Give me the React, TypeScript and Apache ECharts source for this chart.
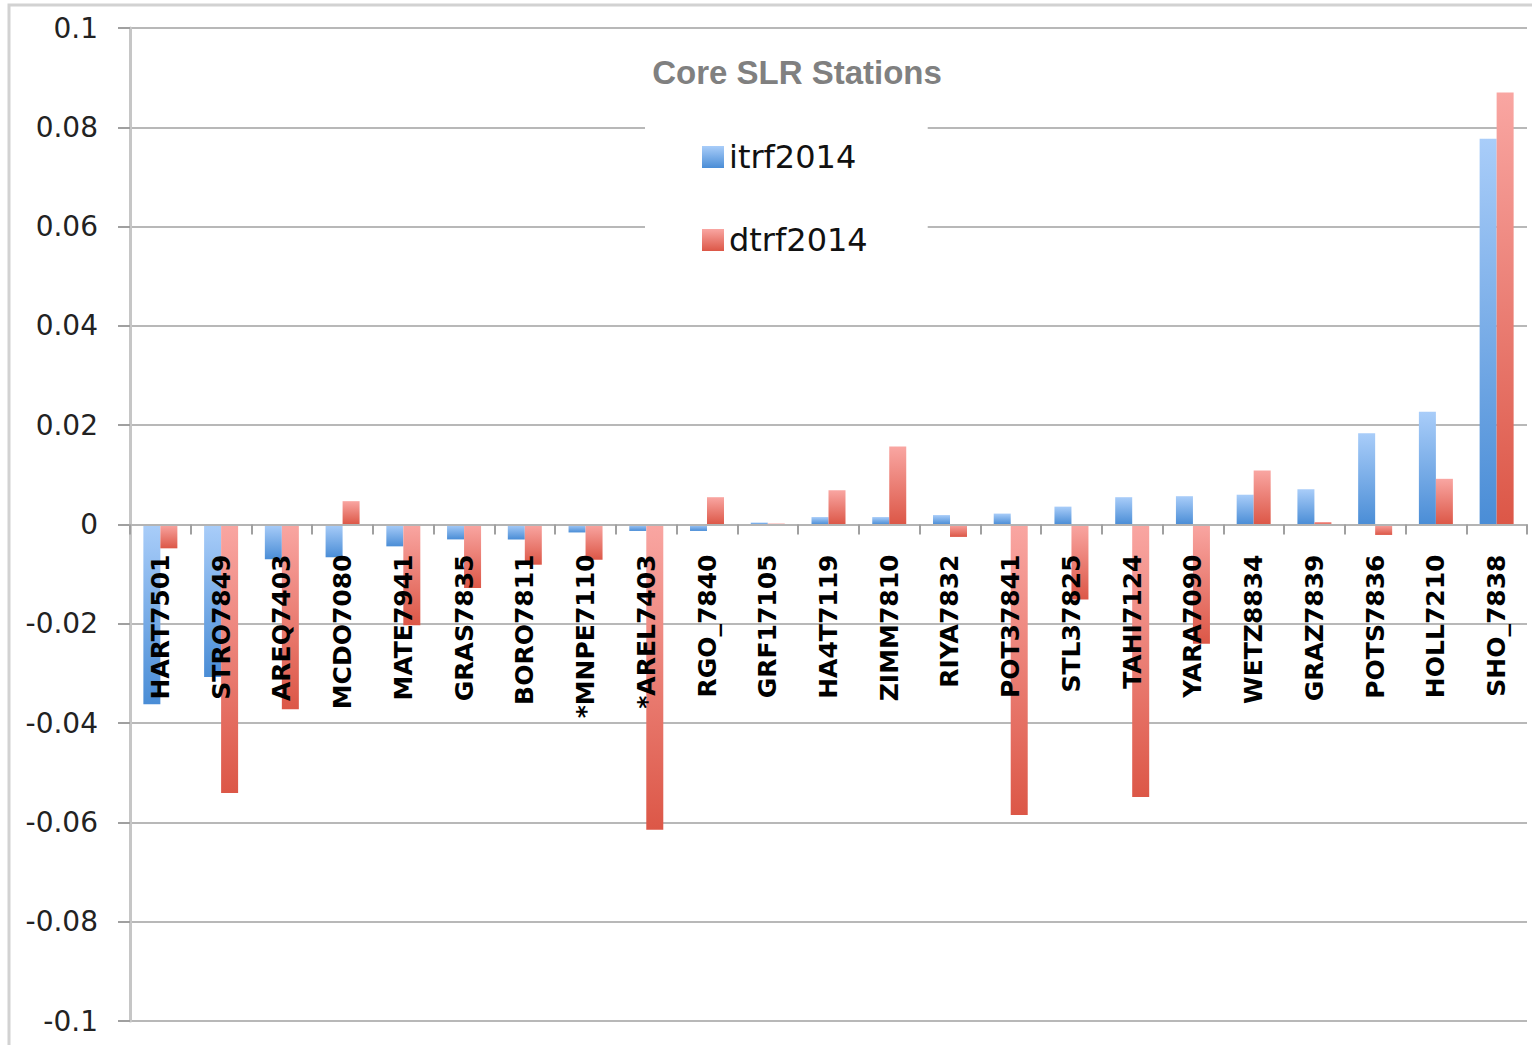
import React, { useEffect, useRef } from "react";
import * as echarts from "echarts";

const stations = [
  "HART7501", "STRO7849", "AREQ7403", "MCDO7080", "MATE7941", "GRAS7835",
  "BORO7811", "*MNPE7110", "*AREL7403", "RGO_7840", "GRF17105", "HA4T7119",
  "ZIMM7810", "RIYA7832", "POT37841", "STL37825", "TAHI7124", "YARA7090",
  "WETZ8834", "GRAZ7839", "POTS7836", "HOLL7210", "SHO_7838",
];

const itrf2014 = [
  -0.0362, -0.0307, -0.007, -0.0066, -0.0044, -0.003,
  -0.003, -0.0016, -0.0013, -0.0013, 0.0004, 0.0015,
  0.0015, 0.0019, 0.0022, 0.0036, 0.0055, 0.0057,
  0.006, 0.0071, 0.0184, 0.0227, 0.0777,
];

const dtrf2014 = [
  -0.0048, -0.0541, -0.0372, 0.0047, -0.0203, -0.0128,
  -0.0081, -0.0071, -0.0615, 0.0055, 0.0002, 0.0069,
  0.0157, -0.0025, -0.0585, -0.0151, -0.0549, -0.024,
  0.0109, 0.0005, -0.0021, 0.0092, 0.087,
];

const seriesNames = ["itrf2014", "dtrf2014"];
const yTicks = { min: -0.1, max: 0.1, interval: 0.02 };
const titleText = "Core SLR Stations";

export default function App() {
  const ref = useRef<HTMLDivElement>(null);
  useEffect(() => {
    if (!ref.current) return;
    const chart = echarts.init(ref.current, undefined, { renderer: "svg" });
    const blue = new echarts.graphic.LinearGradient(0, 0, 0, 1, [
      { offset: 0, color: "#a9cdf9" },
      { offset: 1, color: "#4a8dd6" },
    ]);
    const red = new echarts.graphic.LinearGradient(0, 0, 0, 1, [
      { offset: 0, color: "#f9a6a2" },
      { offset: 1, color: "#dc5747" },
    ]);
    const gridTop = 28;
    const gridBottomPx = 1021;
    const zeroOffset = -(gridBottomPx - gridTop) / 2;
    chart.setOption({
      animation: false,
      backgroundColor: "#ffffff",
      grid: {
        left: 130,
        right: 5,
        top: gridTop,
        bottom: 1045 - gridBottomPx,
        containLabel: false,
        outerBoundsMode: "none",
      },
      graphic: [
        {
          type: "rect",
          silent: true,
          z: -10,
          shape: { x: 9, y: 5, width: 1560, height: 1060 },
          style: { fill: "none", stroke: "#d2d2d2", lineWidth: 3 },
        },
        {
          type: "text",
          x: 797,
          y: 72,
          z: 20,
          style: {
            text: titleText,
            fill: "#808080",
            font: 'bold 33px "Liberation Sans"',
            align: "center",
            verticalAlign: "middle",
            textAlign: "center",
            textVerticalAlign: "middle",
          },
        },
      ],
      legend: {
        orient: "vertical",
        left: 645,
        top: 100,
        backgroundColor: "#ffffff",
        padding: [37, 60, 30, 57],
        itemWidth: 22,
        itemHeight: 22,
        itemGap: 43,
        itemTextGap: 12,
        icon: "rect",
        z: 5,
        textStyle: {
          fontFamily: "DejaVu Sans",
          fontSize: 32,
          lineHeight: 40,
          color: "#111111",
        },
        data: seriesNames,
      },
      xAxis: {
        type: "category",
        data: stations,
        z: 10,
        offset: zeroOffset,
        axisLine: { onZero: false, lineStyle: { color: "#b4b4b4", width: 2 } },
        axisTick: {
          show: true,
          interval: 0,
          alignWithLabel: false,
          length: 10,
          lineStyle: { color: "#a0a0a0", width: 2 },
        },
        axisLabel: {
          interval: 0,
          rotate: 90,
          margin: 30,
          fontFamily: "DejaVu Sans",
          fontWeight: "bold",
          fontSize: 25,
          color: "#000000",
        },
        splitLine: { show: false },
      },
      yAxis: {
        type: "value",
        min: yTicks.min,
        max: yTicks.max,
        interval: yTicks.interval,
        axisLine: { show: true, lineStyle: { color: "#c6c6c6", width: 3 } },
        axisTick: {
          show: true,
          inside: false,
          length: 12,
          lineStyle: { color: "#a0a0a0", width: 2 },
        },
        axisLabel: {
          margin: 32,
          fontFamily: "DejaVu Sans",
          fontSize: 28,
          color: "#222222",
          formatter: (v: number) => String(Number(v.toFixed(2))),
        },
        splitLine: { show: true, lineStyle: { color: "#b8b8b8", width: 2 } },
      },
      series: [
        {
          name: seriesNames[0],
          type: "bar",
          data: itrf2014,
          barWidth: 17,
          barGap: "0%",
          itemStyle: { color: blue },
        },
        {
          name: seriesNames[1],
          type: "bar",
          data: dtrf2014,
          barWidth: 17,
          barGap: "0%",
          itemStyle: { color: red },
        },
      ],
    });
    return () => chart.dispose();
  }, []);
  return (
    <div
      ref={ref}
      style={{ position: "fixed", left: 0, top: 0, width: 1532, height: 1045 }}
    />
  );
}
